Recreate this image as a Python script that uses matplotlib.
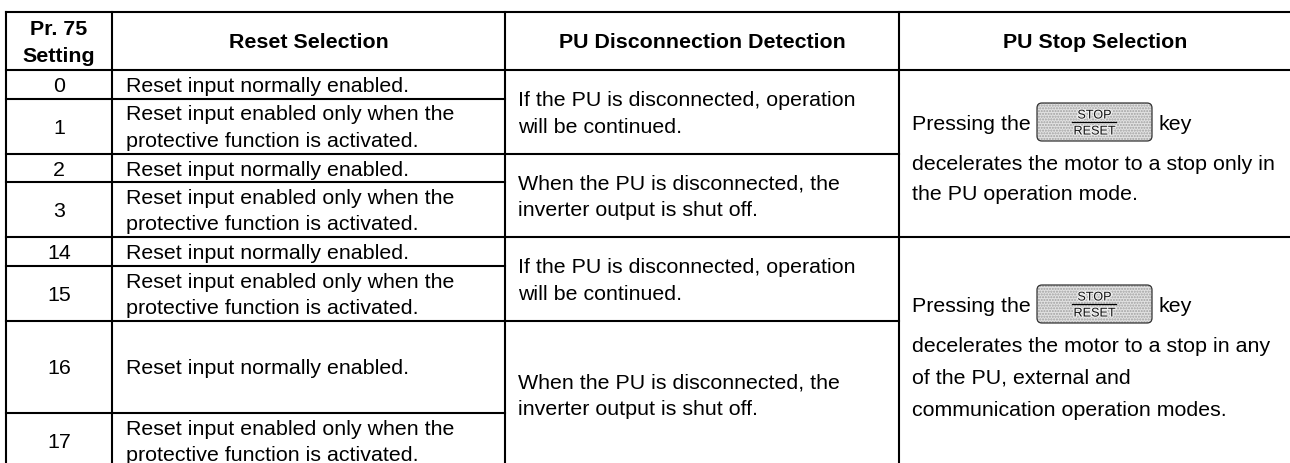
import matplotlib
matplotlib.use("Agg")
import matplotlib.pyplot as plt
import matplotlib.patheffects as pe
from matplotlib.patches import FancyBboxPatch

plt.rcParams['font.family'] = ['Liberation Sans', 'DejaVu Sans']

headers = ["Pr. 75\nSetting", "Reset Selection", "PU Disconnection Detection", "PU Stop Selection"]
settings = ["0", "1", "2", "3", "14", "15", "16", "17"]
reset_on = "Reset input normally enabled."
reset_prot = "Reset input enabled only when the\nprotective function is activated."
reset_sel = [reset_on, reset_prot, reset_on, reset_prot, reset_on, reset_prot, reset_on, reset_prot]
pu_cont = "If the PU is disconnected, operation\nwill be continued."
pu_off = "When the PU is disconnected, the\ninverter output is shut off."
detect = [(0, 2, pu_cont), (2, 4, pu_off), (4, 6, pu_cont), (6, 8, pu_off)]
stop_a = ["Pressing the", "key", "decelerates the motor to a stop only in", "the PU operation mode."]
stop_b = ["Pressing the", "key", "decelerates the motor to a stop in any", "of the PU, external and", "communication operation modes."]

col_x = [6, 112, 505, 899, 1292]
row_y = [70, 98.5, 154, 182, 237, 266, 321, 413, 468]
top = 12
W, H = 1290, 463
FS = 15.4
LW = 1.5
STEP = 26.5

fig = plt.figure(figsize=(W / 100, H / 100), dpi=100)
ax = fig.add_axes([0, 0, 1, 1])
ax.set_xlim(0, W)
ax.set_ylim(H, 0)
ax.axis("off")


def line(x0, y0, x1, y1):
    ax.plot([x0, x1], [y0, y1], color="black", lw=LW, solid_capstyle="projecting")


def multiline(x, yc, s, ha="left", weight="normal"):
    rows = s.split("\n")
    for i, r in enumerate(rows):
        ax.text(x, yc + (i - (len(rows) - 1) / 2) * STEP, r, ha=ha, va="center_baseline",
                fontsize=FS, weight=weight, color="black")


line(col_x[0], top, col_x[-1], top)
line(col_x[0], row_y[0], col_x[-1], row_y[0])
for y in row_y[1:-1]:
    line(col_x[0], y, col_x[2], y)
for i in (2, 4, 6):
    line(col_x[2], row_y[i], col_x[3], row_y[i])
line(col_x[3], row_y[4], col_x[4], row_y[4])
for x in col_x[:-1]:
    line(x, top, x, H + 10)

for j, h in enumerate(headers):
    xc = (col_x[j] + col_x[j + 1]) / 2
    multiline(xc, (top + row_y[0]) / 2, h, ha="center", weight="bold")

for i, (st, rs) in enumerate(zip(settings, reset_sel)):
    yc = (row_y[i] + row_y[i + 1]) / 2
    multiline((col_x[0] + col_x[1]) / 2, yc, st, ha="center")
    multiline(col_x[1] + 14, yc, rs)

for a, b, s in detect:
    multiline(col_x[2] + 13, (row_y[a] + row_y[b]) / 2, s)

HALO = [pe.withStroke(linewidth=1.6, foreground="#f2f2f2")]


def key(x, y):
    ax.add_patch(FancyBboxPatch((x, y - 19), 115, 38, boxstyle="round,pad=0,rounding_size=5",
                                facecolor="#e2e2e2", edgecolor="#a0a0a0", lw=0, hatch="......"))
    ax.add_patch(FancyBboxPatch((x, y - 19), 115, 38, boxstyle="round,pad=0,rounding_size=5",
                                facecolor="none", edgecolor="#333333", lw=0.9, zorder=2.6))
    ax.text(x + 57.5, y - 8, "STOP", ha="center", va="center_baseline", fontsize=9.1,
            color="#111111", zorder=3, path_effects=HALO)
    ax.text(x + 57.5, y + 8, "RESET", ha="center", va="center_baseline", fontsize=9.1,
            color="#111111", zorder=3, path_effects=HALO)
    ax.plot([x + 35, x + 79], [y - 0.5, y - 0.5], color="black", lw=0.9, zorder=3)


def stop_block(lines, y0, offset, step):
    x = col_x[3] + 13
    ax.text(x, y0, lines[0], ha="left", va="center_baseline", fontsize=FS)
    key(x + 125, y0 - 1)
    ax.text(x + 246, y0, lines[1], ha="left", va="center_baseline", fontsize=FS)
    for i, s in enumerate(lines[2:]):
        ax.text(x, y0 + offset + i * step, s, ha="left", va="center_baseline", fontsize=FS)


stop_block(stop_a, 123, 40, 30)
stop_block(stop_b, 305, 39.5, 32)

fig.savefig("out.png", dpi=100)
